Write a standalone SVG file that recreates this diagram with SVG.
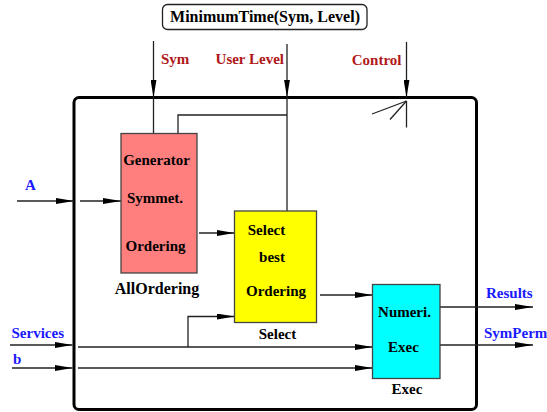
<svg xmlns="http://www.w3.org/2000/svg" width="547" height="412" viewBox="0 0 547 412">
<defs>
<marker id="ah" viewBox="0 0 18 6" refX="18" refY="3" markerWidth="18" markerHeight="6" markerUnits="userSpaceOnUse" orient="auto">
<path d="M0,0 L18,3 L0,6 z" fill="#000"/>
</marker>
</defs>
<style>
text{font-family:"Liberation Serif","Times New Roman",serif;font-weight:bold;font-size:15px;fill:#000}
.red{fill:#b01818}
.blue{fill:#1a1aff}
.c{text-anchor:middle}
.ln{stroke:#222;stroke-width:1.3;fill:none}
.ar{stroke:#222;stroke-width:1.3;fill:none;marker-end:url(#ah)}
.box{stroke:#444;stroke-width:1.3}
</style>
<rect width="547" height="412" fill="#fff"/>
<g id="title">
<rect x="162.5" y="4.5" width="204.5" height="25" rx="5" fill="#fff" stroke="#222" stroke-width="1.3"/>
<text class="c" x="265" y="21.5" style="font-size:16px">MinimumTime(Sym, Level)</text>
</g>
<g id="frame">
<rect x="74" y="97.5" width="402.5" height="312" rx="5" fill="none" stroke="#000" stroke-width="3"/>
</g>
<g id="connectors">
<line class="ar" x1="153.5" y1="41" x2="153.5" y2="97.5"/>
<line class="ln" x1="153.5" y1="97.5" x2="153.5" y2="133.5"/>
<line class="ar" x1="287" y1="44" x2="287" y2="97.5"/>
<line class="ln" x1="287" y1="97.5" x2="287" y2="211"/>
<polyline class="ln" points="287,115 178,115 178,133.5"/>
<line class="ar" x1="406.5" y1="42" x2="406.5" y2="97.5"/>
<line class="ln" x1="406.5" y1="101" x2="406.5" y2="127.5"/>
<line class="ln" x1="406.5" y1="101" x2="372" y2="114"/>
<line class="ln" x1="406.5" y1="101" x2="390" y2="119.5"/>
<line class="ar" x1="17" y1="201" x2="74" y2="201"/>
<line class="ar" x1="80" y1="201" x2="121" y2="201"/>
<line class="ar" x1="199" y1="233" x2="234.5" y2="233"/>
<line class="ar" x1="320" y1="295" x2="372.5" y2="295"/>
<line class="ar" x1="440" y1="307" x2="533" y2="307"/>
<line class="ar" x1="440" y1="345" x2="533" y2="345"/>
<line class="ar" x1="10" y1="345" x2="72.5" y2="345"/>
<line class="ar" x1="78" y1="347" x2="372.5" y2="347"/>
<polyline class="ar" points="188,347 188,316.5 234.5,316.5"/>
<line class="ar" x1="12" y1="368" x2="72.5" y2="368"/>
<line class="ar" x1="78" y1="368" x2="372.5" y2="368"/>
</g>
<g id="labels">
<text class="red" x="161" y="64">Sym</text>
<text class="red" x="284" y="64" text-anchor="end">User Level</text>
<text class="red" x="401.5" y="65" text-anchor="end">Control</text>
<text class="blue" x="25" y="190">A</text>
<text class="blue" x="11.5" y="338">Services</text>
<text class="blue" x="13" y="363.5">b</text>
<text class="blue" x="486" y="298">Results</text>
<text class="blue" x="484" y="338">SymPerm</text>
</g>
<g id="AllOrdering">
<rect class="box" x="121" y="133.5" width="76" height="139.5" fill="#ff7f7f"/>
<text class="c" x="156.5" y="165">Generator</text>
<text class="c" x="155" y="203">Symmet.</text>
<text class="c" x="155.5" y="251">Ordering</text>
<text class="c" x="157" y="293.5" style="font-size:16px">AllOrdering</text>
</g>
<g id="Select">
<rect class="box" x="234.5" y="211" width="82" height="111.5" fill="#ffff00"/>
<text class="c" x="266.5" y="235">Select</text>
<text class="c" x="272" y="262">best</text>
<text class="c" x="276" y="295.5">Ordering</text>
<text class="c" x="277.5" y="339">Select</text>
</g>
<g id="Exec">
<rect class="box" x="372.5" y="284.5" width="67.5" height="94" fill="#00ffff"/>
<text class="c" x="404.5" y="317">Numeri.</text>
<text class="c" x="403.5" y="352">Exec</text>
<text class="c" x="407" y="394">Exec</text>
</g>
</svg>
